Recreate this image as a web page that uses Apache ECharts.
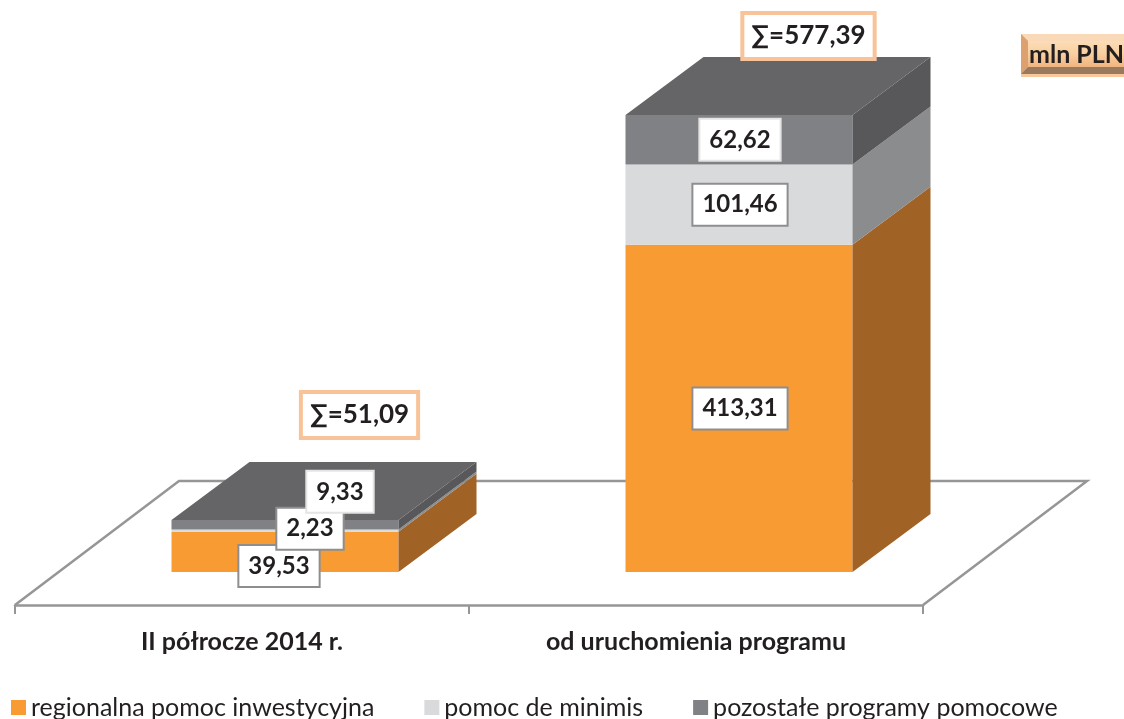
<!DOCTYPE html>
<html>
<head>
<meta charset="utf-8">
<style>
html, body { margin: 0; padding: 0; background: #fff; }
#chart { width: 1124px; height: 719px; }
</style>
<script src="https://cdn.jsdelivr.net/npm/echarts@6/dist/echarts.min.js"></script>
</head>
<body>
<div id="chart"></div>
<script>
var categories = ["II półrocze 2014 r.", "od uruchomienia programu"];
var seriesNames = ["regionalna pomoc inwestycyjna", "pomoc de minimis", "pozostałe programy pomocowe"];
var regionalna = [39.53, 413.31];
var deMinimis = [2.23, 101.46];
var pozostale = [9.33, 62.62];
var sumLabels = ["∑=51,09", "∑=577,39"];
var unitLabel = "mln PLN";

var stacks = [regionalna, deMinimis, pozostale];
var frontColors = ["#F99B33", "#D9DADC", "#808184"];
var sideColors = ["#A16226", "#8B8C8E", "#58585A"];
var topColor = "#656567";
var lineColor = "#969696";
var textColor = "#231F20";

// bars stand in the middle of the floor, depth is a fixed oblique offset
var barDepth = [78, -58];
var floorDepth = [164, -124];
var barShift = 43;

// label box nudges per bar, [x, y] from the middle of the segment
var labelShift = [
	[[-6, 14], [25, -2], [55, -33]],
	[[1, 0], [1, 0], [1, 0]]
];
var labelBorder = ["#8E8E90", "#8E8E90", "#E4E4E4"];
var sumShift = [[0, -47], [-5, -21]];

function fmt(v) {
	return v.toFixed(2).replace(".", ",");
}

function poly(points, color) {
	return {
		type: "polygon",
		shape: { points: points },
		style: { fill: color }
	};
}

function box(x, y, text, border, borderWidth, fontSize, padding) {
	return {
		type: "text",
		z2: 100,
		x: x,
		y: y,
		style: {
			text: text,
			x: 0,
			y: 0,
			align: "center",
			verticalAlign: "middle",
			font: "bold " + fontSize + "px Lato",
			fill: textColor,
			backgroundColor: "#fff",
			borderColor: border,
			borderWidth: borderWidth,
			padding: padding
		}
	};
}

function renderSegment(params, api) {
	var cat = api.value(0);
	var from = api.value(1);
	var to = api.value(2);
	var stack = api.value(3);
	var bottom = api.coord([cat, from]);
	var top = api.coord([cat, to]);
	var band = api.size([1, 0])[0];
	var x0 = bottom[0] + barShift - band / 4;
	var x1 = x0 + band / 2;
	var dx = barDepth[0], dy = barDepth[1];
	var kids = [
		poly([[x0, top[1]], [x1, top[1]], [x1, bottom[1]], [x0, bottom[1]]], frontColors[stack]),
		poly([[x1, top[1]], [x1 + dx, top[1] + dy], [x1 + dx, bottom[1] + dy], [x1, bottom[1]]], sideColors[stack])
	];
	var shift = labelShift[cat][stack];
	kids.push(box((x0 + x1) / 2 + shift[0], (top[1] + bottom[1]) / 2 + shift[1], fmt(to - from), labelBorder[stack], 2, 24, [8, 9, 8, 9]));
	if (stack === 2) {
		kids.push(poly([[x0, top[1]], [x1, top[1]], [x1 + dx, top[1] + dy], [x0 + dx, top[1] + dy]], topColor));
		kids.push(box(x1 + dx - 117 + sumShift[cat][0], top[1] + dy + sumShift[cat][1], sumLabels[cat], "#F9C39A", 4, 26, [8, 7, 8, 7]));
	}
	return { type: "group", children: kids };
}

function renderFloor(params, api) {
	var c = params.coordSys;
	var b = c.y + c.height;
	var dx = floorDepth[0], dy = floorDepth[1];
	return {
		type: "polyline",
		shape: {
			points: [[c.x, b], [c.x + dx, b + dy], [c.x + c.width + dx, b + dy], [c.x + c.width, b]]
		},
		style: { fill: "#fff", stroke: lineColor, lineWidth: 2.5 }
	};
}

var allSeries = [{
	type: "custom",
	name: "floor",
	silent: true,
	renderItem: renderFloor,
	data: [[0, 0]],
	encode: { x: 0, y: 1 },
	z: 1
}];

// one series per segment and bar, the second bar has its own y axis
categories.forEach(function(cat, c) {
	var base = 0;
	stacks.forEach(function(values, s) {
		allSeries.push({
			type: "custom",
			name: seriesNames[s],
			yAxisIndex: c,
			itemStyle: { color: frontColors[s] },
			renderItem: renderSegment,
			data: [[c, base, base + values[c], s]],
			encode: { x: 0, y: [1, 2] },
			z: 2
		});
		base += values[c];
	});
});

var chart = echarts.init(document.getElementById("chart"), null, { renderer: "canvas" });

chart.setOption({
	animation: false,
	backgroundColor: "#fff",
	grid: { left: 15, right: 201, top: 115, bottom: 114 },
	legend: {
		left: 6,
		top: 690,
		data: seriesNames,
		icon: "rect",
		itemWidth: 15,
		itemHeight: 15,
		itemGap: 50,
		selectedMode: false,
		textStyle: { fontFamily: "Lato", fontSize: 25, color: textColor }
	},
	xAxis: {
		type: "category",
		data: categories,
		z: 3,
		axisLine: { show: true, onZero: false, lineStyle: { color: lineColor, width: 2.5 } },
		axisTick: { show: true, alignWithLabel: false, length: 9, lineStyle: { color: lineColor, width: 2 } },
		axisLabel: { fontFamily: "Lato", fontWeight: "bold", fontSize: 25, color: textColor, margin: 24 }
	},
	yAxis: [
		{ type: "value", min: -32.4, max: 449, show: false },
		{ type: "value", min: -41.7, max: 577.39, show: false }
	],
	graphic: [{
		type: "group",
		left: 1021,
		top: 34,
		children: [
			{ type: "rect", shape: { x: 0, y: 0, width: 103, height: 43 }, style: { fill: "#F8C89A" } },
			{ type: "polygon", shape: { points: [[0, 0], [103, 0], [103, 7], [7, 7]] }, style: { fill: "#FAD9B8" } },
			{ type: "polygon", shape: { points: [[0, 0], [7, 7], [7, 33], [0, 40]] }, style: { fill: "#DDA06F" } },
			{ type: "polygon", shape: { points: [[0, 40], [7, 33], [103, 33], [103, 40]] }, style: { fill: "#9A7A5E" } },
			{
				type: "rect",
				shape: { x: 7, y: 7, width: 96, height: 26 },
				style: {
					fill: {
						type: "linear", x: 0, y: 0, x2: 0, y2: 1,
						colorStops: [
							{ offset: 0, color: "#FBDDB8" },
							{ offset: 0.5, color: "#F9CF9F" },
							{ offset: 1, color: "#F0B47E" }
						]
					}
				}
			},
			{
				type: "text",
				x: 8,
				y: 21,
				style: {
					text: unitLabel,
					font: "bold 25px Lato",
					fill: textColor,
					verticalAlign: "middle"
				}
			}
		]
	}],
	series: allSeries
});
</script>
</body>
</html>
